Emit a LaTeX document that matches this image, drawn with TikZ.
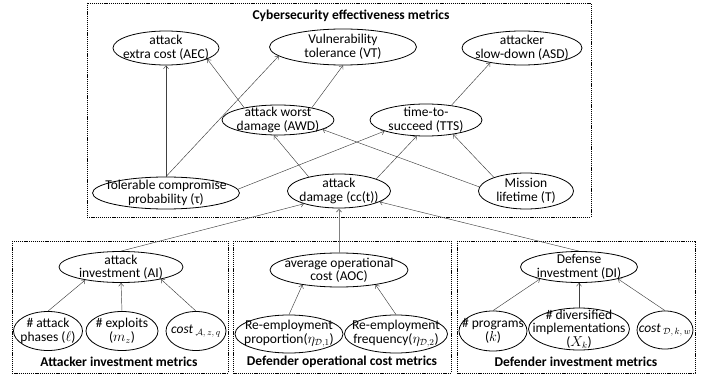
\documentclass[tikz,border=0pt]{standalone}
\usepackage{fontspec}
\setmainfont{Carlito}
\usetikzlibrary{shapes.geometric,arrows.meta}
\newcommand{\elnode}[6]{%
  \node[el, minimum width=#4, minimum height=#5] (#1) at (#2,#3) {};
  \node[txt] (#1t) at (#1) {#6};}
\tikzset{
  el/.style={draw, ellipse, line width=0.8pt, inner sep=0pt},
  txt/.style={align=center, inner sep=0pt, font=\fontsize{13.5}{13.5}\selectfont},
  ttl/.style={inner sep=0pt, font=\fontsize{13.5}{14}\selectfont\bfseries},
  boxline/.style={draw, line width=0.6pt, dash pattern=on 1.2pt off 0.9pt},
  arr/.style={-{Straight Barb[length=3pt,width=5pt]}, line width=0.45pt, draw=black!75},
}
\begin{document}
\begin{tikzpicture}[x=1pt,y=-1pt]
\useasboundingbox (0,0) rectangle (715,377);
% dashed frames
\draw[boxline] (87,3) rectangle (591,217);
\draw[boxline] (12,241) rectangle (228,373);
\draw[boxline] (233,241) rectangle (451,373);
\draw[boxline] (457,241) rectangle (695,373);
% titles
\node[ttl] (t0) at (351,16) {Cybersecurity effectiveness metrics};
\node[ttl] (t1) at (119,362) {Attacker investment metrics};
\node[ttl] (t2) at (342,362) {Defender operational cost metrics};
\node[ttl] (t3) at (576,362) {Defender investment metrics};
% top nodes
\elnode{aec}{166}{48}{106}{34}{attack\\extra cost (AEC)}
\elnode{vt}{343}{47}{147}{36}{Vulnerability\\tolerance (VT)}
\elnode{asd}{522}{48}{120}{34}{attacker\\slow-down (ASD)}
\elnode{awd}{278}{120}{112}{30}{attack worst\\damage (AWD)}
\elnode{tts}{426}{120}{112}{32}{time-to-\\succeed (TTS)}
\elnode{tol}{166}{193}{147}{32}{Tolerable compromise\\probability (τ)}
\elnode{dmg}{339}{191}{103}{34}{attack\\damage (cc(t))}
\elnode{mis}{526}{191}{95}{36}{Mission\\lifetime (T)}
% bottom nodes
\elnode{ai}{121}{267}{124}{31}{attack\\investment (AI)}
\elnode{ph}{48}{331}{69}{39}{\# attack\\phases ($\ell$)}
\elnode{ex}{122}{331}{72}{39}{\# exploits\\($m_z$)}
\elnode{ca}{196}{331}{60}{39}{\textit{cost}\,$_{\mathcal{A},\,z,\,q}$}
\elnode{aoc}{339}{270}{138}{34}{average operational\\cost (AOC)}
\elnode{rp}{289}{334}{108}{38}{Re-employment\\proportion($\eta_{\mathcal{D},1}$)}
\elnode{rf}{396}{334}{103}{38}{Re-employment\\frequency($\eta_{\mathcal{D},2}$)}
\elnode{di}{579}{267}{117}{31}{Defense\\investment (DI)}
\elnode{pr}{493}{331}{68}{40}{\# programs\\($k$)}
\elnode{dv}{579}{329}{101}{42}{\# diversified\\implementations\\($X_k$)}
\elnode{cd}{665}{330}{56}{38}{\textit{cost}\,$_{\mathcal{D},\,k,\,w}$}
% connectors, top
\draw[arr] (tol.north) -- (aec.south);
\draw[arr] (tol.north) -- (vt.188);
\draw[arr] (awd.160) -- (aec.-15);
\draw[arr] (awd.20) -- (vt.south);
\draw[arr] (tts.30) -- (asd.205);
\draw[arr] (tol.3) -- (tts.195);
\draw[arr] (dmg.155) -- (awd.255);
\draw[arr] (dmg.18) -- (tts.240);
\draw[arr] (mis.157) -- (tts.-28);
\draw[arr] (mis.175) -- (awd.-12);
% connectors, into attack damage
\draw[arr] (ai.north) -- (dmg.200);
\draw[arr, line width=0.9pt, draw=black!50] (aoc.north) -- (dmg.south);
\draw[arr] (di.north) -- (dmg.-15);
% connectors, bottom
\draw[arr] (ph.north) -- (ai.200);
\draw[arr] (ex.north) -- (ai.south);
\draw[arr] (ca.north) -- (ai.-17);
\draw[arr] (rp.north) -- (aoc.202);
\draw[arr] (rf.north) -- (aoc.-22);
\draw[arr] (pr.north) -- (di.197);
\draw[arr] (dv.north) -- (di.south);
\draw[arr] (cd.north) -- (di.-17);
\end{tikzpicture}
\end{document}
